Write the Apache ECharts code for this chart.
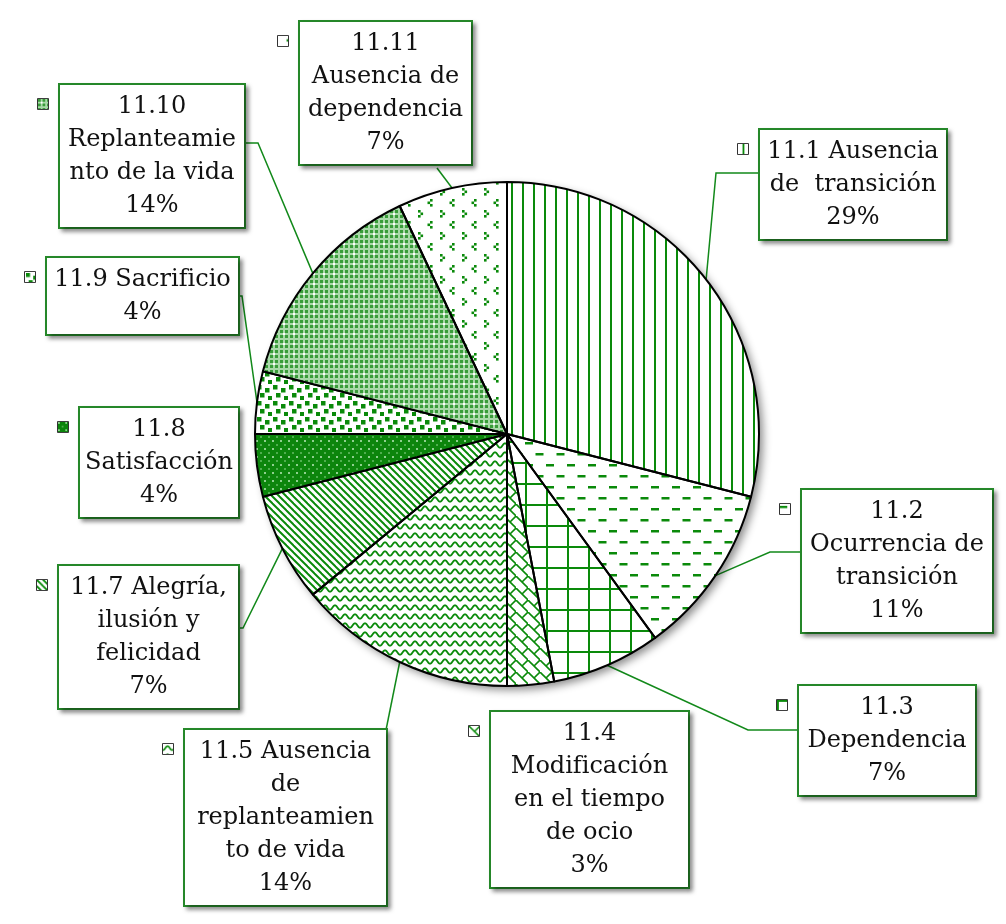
<!DOCTYPE html>
<html lang="es">
<head>
  <meta charset="UTF-8">
  <title>Pie with pattern fills</title>
  <style>
    html, body { margin: 0; padding: 0; background: #fff; }
    #chart { width: 1006px; height: 924px; }
  </style>
</head>
<body>
  <div id="chart"></div>

  <script src="https://cdn.jsdelivr.net/npm/echarts@6/dist/echarts.min.js"></script>
  <script>
    // Categories (as the labels are broken in the picture) and their shares (%)
    const categories = [
      '11.1 Ausencia\nde  transición',
      '11.2\nOcurrencia de\ntransición',
      '11.3\nDependencia',
      '11.4\nModificación\nen el tiempo\nde ocio',
      '11.5 Ausencia\nde\nreplanteamien\nto de vida',
      '11.7 Alegría,\nilusión y\nfelicidad',
      '11.8\nSatisfacción',
      '11.9 Sacrificio',
      '11.10\nReplanteamie\nnto de la vida',
      '11.11\nAusencia de\ndependencia'
    ];
    const shares = [29, 11, 7, 3, 14, 7, 4, 4, 14, 7];

    // Label boxes: left, top, width (px)
    const boxes = [
      [758, 130, 190],
      [800, 490, 194],
      [797, 686, 180],
      [489, 712, 201],
      [183, 730, 205],
      [57, 566, 183],
      [78, 408, 162],
      [45, 258, 195],
      [58, 85, 188],
      [298, 22, 175]
    ];
    // Where each leader line bends and where it meets its box (null = no leader)
    const leaders = [
      [[716, 173], [758, 173]],
      [[770, 552], [800, 552]],
      [[748, 730], [797, 730]],
      null,
      [[386, 730], [386, 730]],
      [[243, 628], [240, 628]],
      null,
      [[242, 296], [240, 296]],
      [[258, 143], [246, 143]],
      [[437, 168], [437, 168]]
    ];

    const G = '#0a8a0a';
    const BORDER = '#26892a';

    function tile(w, h, draw) {
      const c = document.createElement('canvas');
      c.width = w; c.height = h;
      const ctx = c.getContext('2d');
      draw(ctx, w, h);
      return c;
    }
    function line(ctx, pts, width) {
      ctx.strokeStyle = G; ctx.lineWidth = width;
      ctx.beginPath();
      ctx.moveTo(pts[0][0], pts[0][1]);
      for (let i = 1; i < pts.length; i++) ctx.lineTo(pts[i][0], pts[i][1]);
      ctx.stroke();
    }

    // one tile per slice, in the order of categories
    const tiles = [
      // vertical stripes
      tile(11, 11, ctx => { ctx.fillStyle = G; ctx.fillRect(5, 0, 2, 11); }),
      // staggered dashes
      tile(21, 22, ctx => {
        ctx.fillStyle = G;
        ctx.fillRect(0, 2, 8, 2.5);
        ctx.fillRect(10.5, 13, 8, 2.5);
      }),
      // large grid
      tile(21, 21, ctx => {
        ctx.fillStyle = G;
        ctx.fillRect(0, 0, 21, 2);
        ctx.fillRect(0, 0, 2, 21);
      }),
      // diagonal bricks
      tile(12, 12, ctx => {
        line(ctx, [[-1, -1], [13, 13]], 1.6);
        line(ctx, [[6, 6], [13, -1]], 1.6);
      }),
      // waves
      tile(10, 9, ctx => {
        const pts = [];
        for (let x = -1; x <= 11; x += 0.5) pts.push([x, 4.5 + 2.2 * Math.cos(2 * Math.PI * x / 10)]);
        line(ctx, pts, 1.8);
      }),
      // diagonal stripes
      tile(7, 7, ctx => {
        line(ctx, [[-1, -1], [8, 8]], 2);
        line(ctx, [[-1, 6], [1, 8]], 2);
        line(ctx, [[6, -1], [8, 1]], 2);
      }),
      // dark diamond lattice
      tile(8, 8, ctx => {
        ctx.fillStyle = '#0c850c'; ctx.fillRect(0, 0, 8, 8);
        ctx.fillStyle = '#8fd08f'; ctx.fillRect(0, 0, 2, 2);
        ctx.fillStyle = '#4fae4f'; ctx.fillRect(4, 4, 2, 2);
      }),
      // confetti squares
      tile(16, 16, ctx => {
        ctx.fillStyle = G;
        ctx.fillRect(1, 1, 4.5, 4.5);
        ctx.fillRect(9, 4, 4.5, 4.5);
        ctx.fillRect(4, 9, 4.5, 4.5);
        ctx.fillRect(12, 12, 4, 4);
      }),
      // medium checker with white sparkles
      tile(10, 10, ctx => {
        ctx.fillStyle = '#a9d9a9'; ctx.fillRect(0, 0, 10, 10);
        ctx.fillStyle = '#399c39';
        ctx.fillRect(0, 0, 3, 3); ctx.fillRect(5, 0, 3, 3);
        ctx.fillRect(0, 5, 3, 3); ctx.fillRect(5, 5, 3, 3);
        ctx.fillStyle = '#fff'; ctx.fillRect(3, 3, 2, 2);
      }),
      // small chevrons
      tile(22, 22, ctx => {
        ctx.fillStyle = G;
        [[12, 1], [9.5, 3.5], [12, 6], [0, 12], [2.5, 14.5], [0, 17]].forEach(p => ctx.fillRect(p[0], p[1], 2.6, 2.6));
      })
    ];

    const keys = tiles.map(t => tile(11, 11, ctx => {
      ctx.fillStyle = '#fff'; ctx.fillRect(0, 0, 11, 11);
      ctx.fillStyle = ctx.createPattern(t, 'repeat'); ctx.fillRect(0, 0, 11, 11);
    }));

    const pieData = categories.map((name, i) => ({
      name: name,
      value: shares[i],
      itemStyle: { color: { image: tiles[i], repeat: 'repeat' } },
      label: { width: boxes[i][2] - 14 },
      labelLine: { show: leaders[i] !== null }
    }));

    const keyData = categories.map((name, i) => ({
      name: name,
      value: shares[i],
      label: { backgroundColor: { image: keys[i] } }
    }));

    const chart = echarts.init(document.getElementById('chart'));
    chart.setOption({
      backgroundColor: '#fff',
      animation: false,
      series: [
        {
          // plain disk under the slices, carries the shadow
          type: 'pie',
          center: [507, 434],
          radius: 252,
          silent: true,
          label: { show: false },
          labelLine: { show: false },
          itemStyle: {
            color: '#fff',
            shadowBlur: 8,
            shadowOffsetX: 4,
            shadowOffsetY: 4,
            shadowColor: 'rgba(0,0,0,0.45)'
          },
          data: [{ value: 1, name: '' }]
        },
        {
          type: 'pie',
          center: [507, 434],
          radius: 252,
          startAngle: 90,
          avoidLabelOverlap: false,
          emphasis: { disabled: true },
          itemStyle: { borderColor: '#000', borderWidth: 2 },
          label: {
            show: true,
            position: 'outside',
            formatter: '{b}\n{d}%',
            fontFamily: 'DejaVu Serif',
            fontSize: 24,
            lineHeight: 33,
            color: '#111',
            align: 'center',
            overflow: 'none',
            backgroundColor: '#fff',
            borderColor: BORDER,
            borderWidth: 2,
            padding: [5, 5],
            shadowBlur: 4,
            shadowOffsetX: 3,
            shadowOffsetY: 3,
            shadowColor: 'rgba(0,0,0,0.35)'
          },
          labelLine: {
            show: true,
            length: 10,
            length2: 10,
            lineStyle: { color: '#12891a', width: 1.5 }
          },
          labelLayout: function (p) {
            const i = p.dataIndex;
            const b = boxes[i];
            const out = { x: b[0] + b[2] / 2, y: b[1], align: 'center', verticalAlign: 'top' };
            if (leaders[i] && p.labelLinePoints) {
              out.labelLinePoints = [p.labelLinePoints[0], leaders[i][0], leaders[i][1]];
            }
            return out;
          },
          data: pieData
        },
        {
          // legend keys beside each label
          type: 'pie',
          center: [507, 434],
          radius: 252,
          startAngle: 90,
          silent: true,
          avoidLabelOverlap: false,
          itemStyle: { color: 'transparent' },
          label: {
            show: true,
            formatter: ' ',
            width: 10,
            height: 10,
            borderColor: '#000',
            borderWidth: 1.6,
            fontSize: 8
          },
          labelLine: { show: false },
          labelLayout: function (p) {
            const b = boxes[p.dataIndex];
            return { x: b[0] - 20, y: b[1] + 14, align: 'left', verticalAlign: 'top' };
          },
          data: keyData
        }
      ]
    });
  </script>
</body>
</html>
